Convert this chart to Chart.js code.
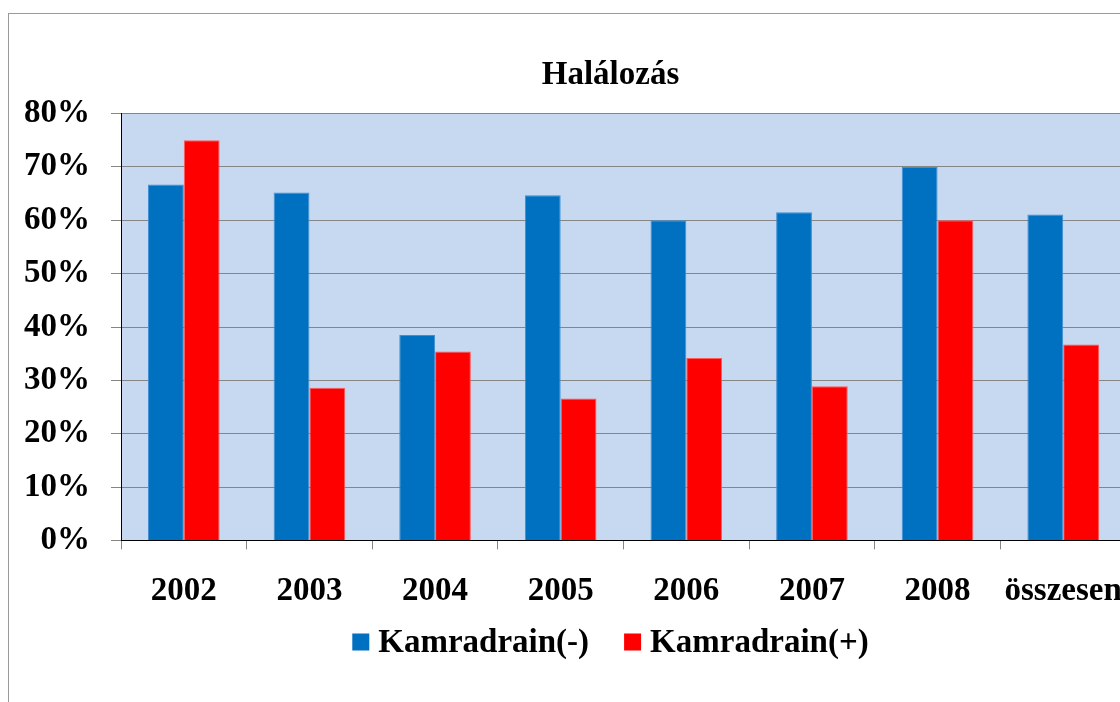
<!DOCTYPE html>
<html>
<head>
<meta charset="utf-8">
<script src="https://cdn.jsdelivr.net/npm/chart.js@4.4.0/dist/chart.umd.min.js"></script>
<style>
  html, body { margin: 0; padding: 0; background: #fff; overflow: hidden; width: 1120px; height: 702px; }
  #frame { position: absolute; left: 8px; top: 13px; width: 1210px; height: 700px;
           border-left: 1px solid #9a9a9a; border-top: 1px solid #9a9a9a; }
  canvas { display: block; }
</style>
</head>
<body>
<div id="frame"><canvas id="chart" width="1203" height="688"></canvas></div>
<script>
// Halálozás - data
var categories = ['2002', '2003', '2004', '2005', '2006', '2007', '2008', 'összesen'];
var drainNeg = [66.7, 65.2, 38.5, 64.7, 60.0, 61.5, 70.0, 61.1];
var drainPos = [75.0, 28.6, 35.4, 26.6, 34.2, 28.9, 60.0, 36.7];
var yMin = 0;
var yMax = 80;
var yStep = 10;

var font = 'Liberation Serif';

// light blue plot background
var plotBackground = {
  id: 'plotBackground',
  beforeDraw: function (chart) {
    var a = chart.chartArea;
    var ctx = chart.ctx;
    ctx.save();
    ctx.fillStyle = '#C6D9F1';
    ctx.fillRect(a.left, a.top, a.right - a.left, a.bottom - a.top);
    ctx.restore();
  },
};

// legend drawn by hand so the box/text gaps match the original
var bottomLegend = {
  id: 'bottomLegend',
  afterDraw: function (chart) {
    var ctx = chart.ctx;
    var box = 17, gap = 9, spacing = 35, cy = 628;
    ctx.save();
    ctx.font = 'bold 33px "' + font + '"';
    ctx.textBaseline = 'middle';
    ctx.textAlign = 'left';
    var items = chart.data.datasets.map(function (ds) {
      return { text: ds.label, color: ds.backgroundColor, w: ctx.measureText(ds.label).width };
    });
    var total = 0;
    items.forEach(function (it, i) {
      total += box + gap + it.w + (i ? spacing : 0);
    });
    var x = chart.width / 2 - total / 2;
    items.forEach(function (it) {
      ctx.fillStyle = it.color;
      ctx.fillRect(x, cy - box / 2, box, box);
      ctx.fillStyle = '#000';
      ctx.fillText(it.text, x + box + gap, cy + 1);
      x += box + gap + it.w + spacing;
    });
    ctx.restore();
  },
};

new Chart(document.getElementById('chart'), {
  type: 'bar',
  data: {
    labels: categories,
    datasets: [
      {
        label: 'Kamradrain(-)',
        data: drainNeg,
        backgroundColor: '#0070C0',
        borderColor: '#3f8fd2',
        borderWidth: 1,
      },
      {
        label: 'Kamradrain(+)',
        data: drainPos,
        backgroundColor: '#FF0000',
        borderColor: '#ff5a5a',
        borderWidth: 1,
      },
    ],
  },
  options: {
    responsive: false,
    animation: false,
    devicePixelRatio: 1,
    layout: { padding: { left: 0, right: 0, top: 0, bottom: 69 } },
    datasets: {
      bar: { categoryPercentage: 0.57, barPercentage: 1.0 },
    },
    scales: {
      x: {
        grid: {
          offset: true,
          drawOnChartArea: false,
          drawTicks: true,
          tickLength: 9,
          color: '#868686',
        },
        border: { display: true, color: '#000', width: 1 },
        ticks: {
          color: '#000',
          padding: 22,
          maxRotation: 0,
          autoSkip: false,
          font: { family: font, size: 33, weight: 'bold' },
        },
      },
      y: {
        min: yMin,
        max: yMax,
        afterFit: function (scale) { scale.width = 112; },
        grid: { color: '#868686', tickLength: 10 },
        border: { display: true, color: '#000', width: 1 },
        ticks: {
          stepSize: yStep,
          color: '#000',
          padding: 21,
          font: { family: font, size: 33, weight: 'bold' },
          callback: function (v) { return v + '%'; },
        },
      },
      yRight: {
        position: 'right',
        display: true,
        afterFit: function (scale) { scale.width = 86; },
        grid: { display: false },
        border: { display: false },
        ticks: { display: false },
      },
    },
    plugins: {
      title: {
        display: true,
        text: 'Halálozás',
        color: '#000',
        padding: { top: 42, bottom: 18 },
        font: { family: font, size: 33, weight: 'bold' },
      },
      legend: { display: false },
      tooltip: { enabled: false },
    },
  },
  plugins: [plotBackground, bottomLegend],
});
</script>
</body>
</html>
